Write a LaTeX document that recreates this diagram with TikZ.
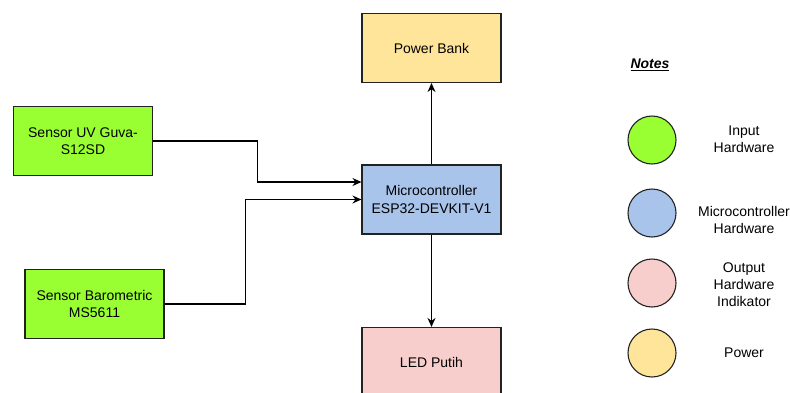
\documentclass[tikz,border=0pt]{standalone}
\usepackage{fontspec}
\setmainfont{Liberation Sans}
\usetikzlibrary{arrows.meta}
\definecolor{ingreen}{HTML}{99FF33}
\definecolor{mcblue}{HTML}{A9C4EB}
\definecolor{outpink}{HTML}{F8CECC}
\definecolor{pwyellow}{HTML}{FFE599}
\definecolor{edge}{HTML}{222222}
\begin{document}
\begin{tikzpicture}[x=1pt,y=-1pt,
  box/.style={draw=edge, line width=1.1pt, minimum width=139pt, minimum height=69pt,
    align=center, inner sep=0pt, font=\fontsize{14}{17.5}\selectfont},
  dot/.style={circle, draw=edge, line width=1.1pt, minimum size=48pt, inner sep=0pt},
  lbl/.style={align=center, font=\fontsize{14}{17}\selectfont, inner sep=0pt},
  arr/.style={draw=black, line width=1.1pt, -{Stealth[length=9pt,width=8pt]}}]
\useasboundingbox (0,0) rectangle (790,392);
\clip (0,0) rectangle (790,392);
\fill[white] (0,0) rectangle (790,392);

\node[box, fill=ingreen] (uv) at (83,141) {Sensor UV Guva-\\S12SD};
\node[box, fill=ingreen] (baro) at (94.5,304) {Sensor Barometric\\MS5611};
\node[box, fill=mcblue] (mc) at (431.5,199.5) {Microcontroller\\ESP32-DEVKIT-V1};
\node[box, fill=pwyellow] (pb) at (431.5,48) {Power Bank};
\node[box, fill=outpink] (led) at (431.5,362) {LED Putih};

\draw[arr] (uv.east) -- ++(104,0) |- ([yshift=17.5pt]mc.west);
\draw[arr] (baro.east) -- ++(81,0) |- (mc.west);
\draw[arr] (mc.north) -- (pb.south);
\draw[arr] (mc.south) -- (led.north);

\node[lbl, font=\fontsize{14}{17}\selectfont\bfseries\itshape] (notes) at (650,65) {\underline{Notes}};
\node[dot, fill=ingreen] (c1) at (652,140) {};
\node[dot, fill=mcblue] (c2) at (652,213) {};
\node[dot, fill=outpink] (c3) at (652,283) {};
\node[dot, fill=pwyellow] (c4) at (652,353) {};
\node[lbl] (l1) at (744,139) {Input\\Hardware};
\node[lbl] (l2) at (744,220) {Microcontroller\\Hardware};
\node[lbl] (l3) at (744,285) {Output\\Hardware\\Indikator};
\node[lbl] (l4) at (744,353) {Power};
\end{tikzpicture}
\end{document}
